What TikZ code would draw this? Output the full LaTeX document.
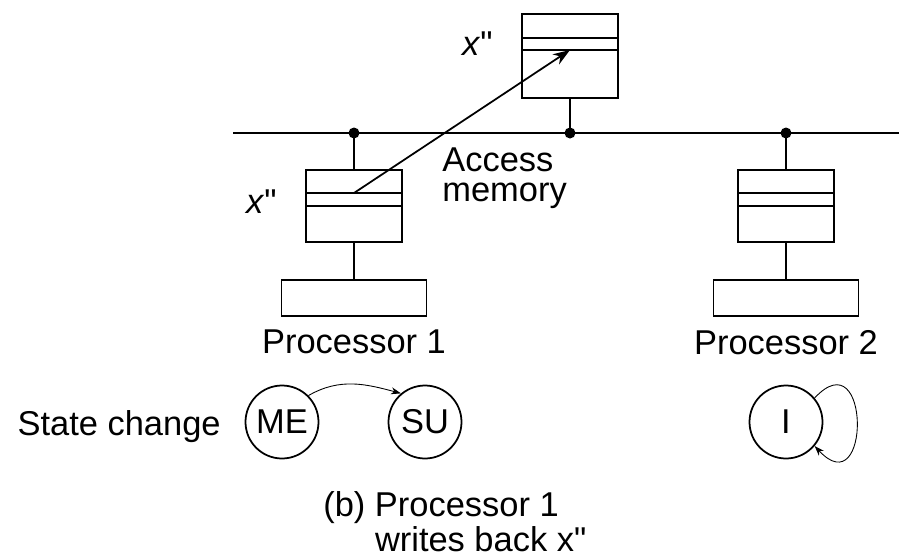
\documentclass[tikz,border=0pt]{standalone}
\usepackage{fontspec}
\setmainfont{Liberation Sans}[Ligatures=TeXOff]
\usetikzlibrary{arrows.meta,positioning}

\begin{document}
\begin{tikzpicture}[
  box/.style={draw, line width=1pt, inner sep=0pt},
  cache/.style={box, minimum width=1.92cm, minimum height=1.44cm},
  memory/.style={box, minimum width=1.92cm, minimum height=1.68cm},
  proc/.style={box, minimum width=2.90cm, minimum height=0.72cm},
  dot/.style={circle, fill, inner sep=0pt, minimum size=0.22cm},
  state/.style={circle, draw, line width=1pt, inner sep=0pt,
    minimum size=1.46cm, font=\fontsize{19.6pt}{17.1pt}\selectfont},
  label/.style={inner sep=0pt, font=\fontsize{19.6pt}{17.1pt}\selectfont},
  wire/.style={line width=1pt},
  trans/.style={line width=0.5pt, -{Stealth[length=0.2cm, width=0.14cm]}}
]
\useasboundingbox (0,0) rectangle (17.98,-11.08);

% Bus
\coordinate (busL) at (4.66,-2.66);
\coordinate (busR) at (17.98,-2.66);
\draw[wire] (busL) -- (busR);

% Memory
\node[memory] (mem) at (11.40,-1.12) {};
\draw[wire] ([yshift=0.36cm]mem.west) -- ([yshift=0.36cm]mem.east);
\draw[wire] ([yshift=0.12cm]mem.west) -- ([yshift=0.12cm]mem.east);
\node[dot] (dotm) at (mem.south |- busL) {};
\draw[wire] (mem.south) -- (dotm.center);
\node[label, anchor=base east] (xmem) at (9.86,-1.10) {\textit{x}"};

% Cache 1
\node[cache] (cache1) at (7.08,-4.12) {};
\draw[wire] ([yshift=0.26cm]cache1.west) -- ([yshift=0.26cm]cache1.east);
\draw[wire] (cache1.west) -- (cache1.east);
\node[dot] (dot1) at (cache1.north |- busL) {};
\draw[wire] (dot1.center) -- (cache1.north);
\node[label, anchor=base east] (xcache) at (5.54,-4.26) {\textit{x}"};

% Processor 1
\node[proc, below=0.72cm of cache1] (proc1) {};
\draw[wire] (cache1.south) -- (proc1.north);
\node[label, below=0.26cm of proc1] (name1) {Processor 1};

% Cache 2
\node[cache] (cache2) at (15.72,-4.12) {};
\draw[wire] ([yshift=0.26cm]cache2.west) -- ([yshift=0.26cm]cache2.east);
\draw[wire] (cache2.west) -- (cache2.east);
\node[dot] (dot2) at (cache2.north |- busL) {};
\draw[wire] (dot2.center) -- (cache2.north);

% Processor 2
\node[proc, below=0.72cm of cache2] (proc2) {};
\draw[wire] (cache2.south) -- (proc2.north);
\node[label, below=0.26cm of proc2] (name2) {Processor 2};

% Write back
\node[label, align=left, anchor=north west] (access) at (8.84,-2.95)
  {Access\\memory};
\draw[wire, -{Stealth[length=0.34cm, width=0.24cm]}]
  ([yshift=0.26cm]cache1.center) -- ([yshift=0.12cm]mem.center);

% States
\node[state] (ME) at (5.64,-8.44) {ME};
\node[state] (SU) at (8.50,-8.44) {SU};
\node[state] (I) at (15.72,-8.44) {I};
\node[label, anchor=base east] (change) at (4.42,-8.70) {State change};
\draw[trans] (ME.45) to[out=30, in=165] (SU.130);
\draw[trans] (I.40) to[out=47, in=-47, looseness=4.4] (I.-40);

% Caption
\node[label, align=left, anchor=north west,
  font=\fontsize{19.6pt}{19.9pt}\selectfont] (caption) at (6.46,-9.82)
  {(b) Processor 1\\\phantom{(b) }writes back x"};

\end{tikzpicture}
\end{document}
